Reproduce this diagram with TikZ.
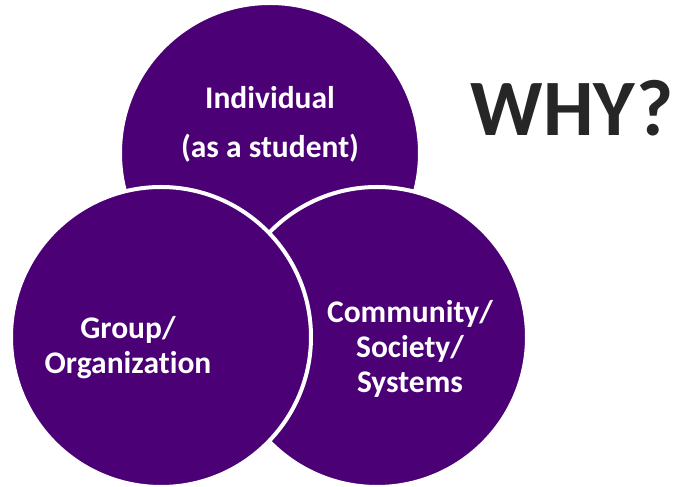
\documentclass[tikz,border=0pt]{standalone}
\usepackage{fontspec}
\setmainfont{Carlito}[Ligatures=NoCommon]
\usepackage{xcolor}
\usetikzlibrary{positioning}
\definecolor{vpurple}{HTML}{4B0076}
\definecolor{whygray}{HTML}{262626}

\begin{document}
\begin{tikzpicture}[x=1pt, y=1pt,
  ring/.style={circle, draw=white, line width=4pt, fill=vpurple,
               minimum size=300pt, inner sep=0pt},
  lbl/.style={text=white, font=\bfseries\fontsize{31.5}{35}\selectfont,
              align=center, inner sep=0pt}]
\useasboundingbox (0,0) rectangle (681,487);
% three overlapping rings, later ones sit on top
\node[ring] (ind) at (270,334) {};
\node[ring] (com) at (377,150) {};
\node[ring] (grp) at (161,150) {};
\node[lbl] (indtxt) at ([yshift=29pt]ind.center) {Individual\\[14pt](as a student)};
\node[lbl] (grptxt) at ([xshift=-33pt, yshift=-11pt]grp.center) {Group/\\Organization};
\node[lbl] (comtxt) at ([xshift=33pt, yshift=-12pt]com.center) {Community/\\Society/\\Systems};
\node[text=whygray, font=\bfseries\fontsize{80}{96}\selectfont, anchor=base, inner sep=0pt] (why) at (572,351) {WHY?};
\end{tikzpicture}
\end{document}
